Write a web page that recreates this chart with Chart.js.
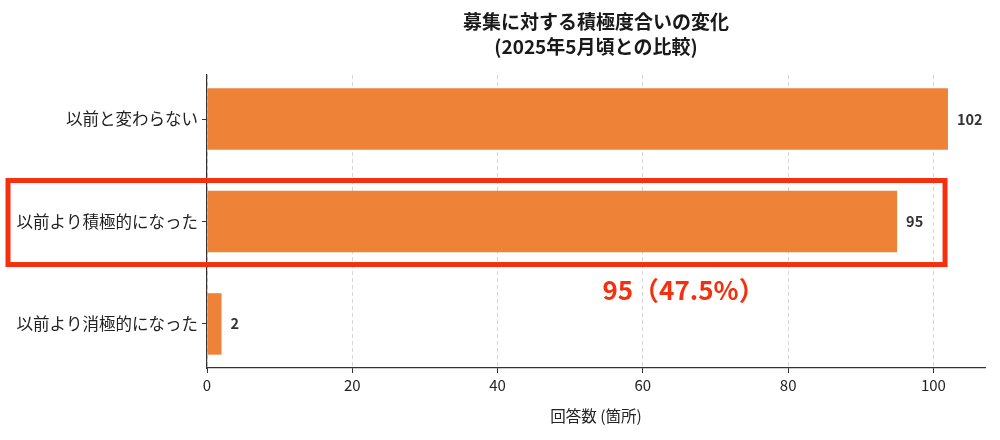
<!DOCTYPE html>
<html>
<head>
<meta charset="utf-8">
<script src="https://cdn.jsdelivr.net/npm/chart.js@4"></script>
<style>
  html, body { margin: 0; padding: 0; background: #fff; }
  #wrap { width: 1000px; height: 440px; }
</style>
</head>
<body>
<div id="wrap"><canvas id="myChart"></canvas></div>
<script>
// data
const categories = ['以前と変わらない', '以前より積極的になった', '以前より消極的になった'];
const counts = [102, 95, 2];
const xTicks = [0, 20, 40, 60, 80, 100];
const titleLines = ['募集に対する積極度合いの変化', '(2025年5月頃との比較)'];
const highlightIndex = 1;
const highlightText = '95（47.5%）';

const FONT = '"Noto Sans CJK JP", "Noto Sans", sans-serif';
const barColor = '#EE8236';
const red = '#F5300F';

// title centred over the plot area, like matplotlib does
const titlePlugin = {
    id: 'titlePlugin',
    afterDraw(chart) {
        const ctx = chart.ctx;
        const area = chart.chartArea;
        const cx = (area.left + area.right) / 2;
        ctx.save();
        ctx.fillStyle = '#1a1a1a';
        ctx.font = 'bold 19px ' + FONT;
        ctx.textAlign = 'center';
        ctx.textBaseline = 'middle';
        ctx.fillText(titleLines[0], cx, 22);
        ctx.fillText(titleLines[1], cx, 47);
        ctx.restore();
    }
};

// value labels at the end of each bar
const valueLabels = {
    id: 'valueLabels',
    afterDatasetsDraw(chart) {
        const ctx = chart.ctx;
        const meta = chart.getDatasetMeta(0);
        ctx.save();
        ctx.fillStyle = '#333';
        ctx.font = 'bold 14.5px ' + FONT;
        ctx.textAlign = 'left';
        ctx.textBaseline = 'middle';
        meta.data.forEach((bar, i) => {
            ctx.fillText(String(counts[i]), bar.x + 9, bar.y);
        });
        ctx.restore();
    }
};

// red frame round the highlighted row and its note
const highlight = {
    id: 'highlight',
    afterDraw(chart) {
        const ctx = chart.ctx;
        const xs = chart.scales.x;
        const ys = chart.scales.y;
        const top = ys.getPixelForValue(highlightIndex - 0.4);
        const bottom = ys.getPixelForValue(highlightIndex + 0.42);
        const right = xs.getPixelForValue(counts[highlightIndex] + 6.6);
        ctx.save();
        ctx.strokeStyle = red;
        ctx.lineWidth = 5;
        ctx.strokeRect(8, top, right - 8, bottom - top);
        ctx.fillStyle = red;
        ctx.font = 'bold 26px ' + FONT;
        ctx.textAlign = 'center';
        ctx.textBaseline = 'middle';
        ctx.fillText(highlightText, xs.getPixelForValue(65.6), ys.getPixelForValue(highlightIndex + 0.67));
        ctx.restore();
    }
};

const ctx = document.getElementById('myChart').getContext('2d');
new Chart(ctx, {
    type: 'bar',
    data: {
        datasets: [{
            data: counts.map((v, i) => ({ x: v, y: i })),
            backgroundColor: barColor,
            borderWidth: 0,
            barPercentage: 0.6,
            categoryPercentage: 1.0
        }]
    },
    options: {
        indexAxis: 'y',
        responsive: true,
        maintainAspectRatio: false,
        animation: false,
        layout: { padding: { top: 75, right: 15, left: 0, bottom: 15 } },
        plugins: {
            legend: { display: false },
            tooltip: { enabled: false }
        },
        scales: {
            x: {
                type: 'linear',
                min: 0,
                max: 107.1,
                afterBuildTicks: (scale) => { scale.ticks = xTicks.map(v => ({ value: v })); },
                afterFit: (scale) => { scale.height = 57; },
                ticks: { color: '#222', font: { family: FONT, size: 15 }, padding: 3 },
                grid: {
                    color: '#d6d6d6',
                    lineWidth: 1,
                    tickColor: '#333',
                    tickLength: 5,
                    tickBorderDash: [],
                    drawTicks: true
                },
                border: { display: true, color: '#333', width: 1.2, dash: [4, 3] },
                title: {
                    display: true,
                    text: '回答数 (箇所)',
                    color: '#222',
                    font: { family: FONT, size: 15.5 },
                    padding: { top: 6, bottom: 0 }
                }
            },
            y: {
                type: 'linear',
                reverse: true,
                offset: false,
                min: -0.43,
                max: 2.43,
                afterBuildTicks: (scale) => { scale.ticks = categories.map((c, i) => ({ value: i })); },
                afterFit: (scale) => { scale.width = 207; },
                ticks: {
                    color: '#222',
                    font: { family: FONT, size: 16.5 },
                    padding: 4,
                    callback: (v) => categories[v]
                },
                grid: {
                    offset: false,
                    drawOnChartArea: false,
                    tickColor: '#333',
                    tickLength: 5
                },
                border: { display: true, color: '#333', width: 1.2 }
            }
        }
    },
    plugins: [titlePlugin, valueLabels, highlight]
});
</script>
</body>
</html>
